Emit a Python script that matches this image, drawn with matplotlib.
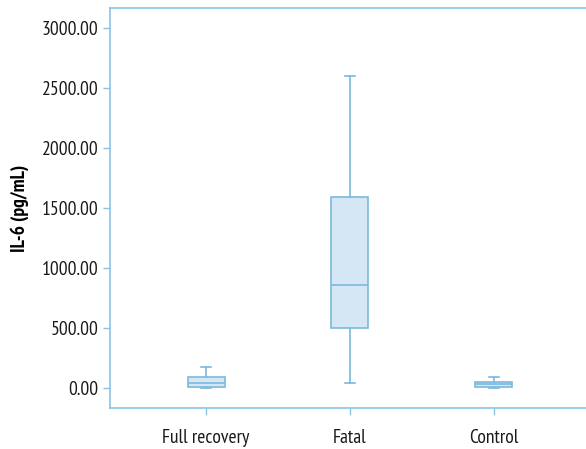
import matplotlib
matplotlib.use("Agg")
import matplotlib.pyplot as plt

groups = ["Full recovery", "Fatal", "Control"]
whislo = [0, 45, 0]
q1 = [11, 500, 11]
med = [44, 860, 33]
q3 = [89, 1590, 53]
whishi = [177, 2600, 94]
yticks = [0, 500, 1000, 1500, 2000, 2500, 3000]

EDGE = "#7cb9de"
FACE = "#d5e6f4"
SPINE = "#8cc2e4"

plt.rcParams["font.family"] = ["PT Sans Narrow", "DejaVu Sans"]

fig = plt.figure(figsize=(5.86, 4.49), dpi=100)
ax = fig.add_axes([110 / 586, 41 / 449, 476 / 586, 400 / 449])

stats = [dict(label=g, whislo=a, q1=b, med=c, q3=d, whishi=e)
         for g, a, b, c, d, e in zip(groups, whislo, q1, med, q3, whishi)]
ax.bxp(stats, positions=[1, 2, 3], widths=0.257, capwidths=0.07, showfliers=False,
       patch_artist=True,
       boxprops=dict(facecolor=FACE, edgecolor=EDGE, linewidth=1.2),
       medianprops=dict(color=EDGE, linewidth=1.2),
       whiskerprops=dict(color=EDGE, linewidth=1.2),
       capprops=dict(color=EDGE, linewidth=1.2))

ax.set_xlim(0.333, 3.64)
ax.set_ylim(-167, 3167)
ax.set_yticks(yticks)
ax.set_yticklabels([f"{v:.2f}" for v in yticks])
ax.set_ylabel("IL-6 (pg/mL)", fontsize=14, fontweight="bold", labelpad=9)

for s in ("left", "bottom", "top"):
    ax.spines[s].set_color(SPINE)
    ax.spines[s].set_linewidth(1.2)
ax.spines["right"].set_visible(False)
ax.tick_params(colors=SPINE, labelcolor="#1a1a1a", labelsize=14, length=5, width=1)
ax.tick_params(axis="x", pad=10)

fig.savefig("out.png", dpi=100)
